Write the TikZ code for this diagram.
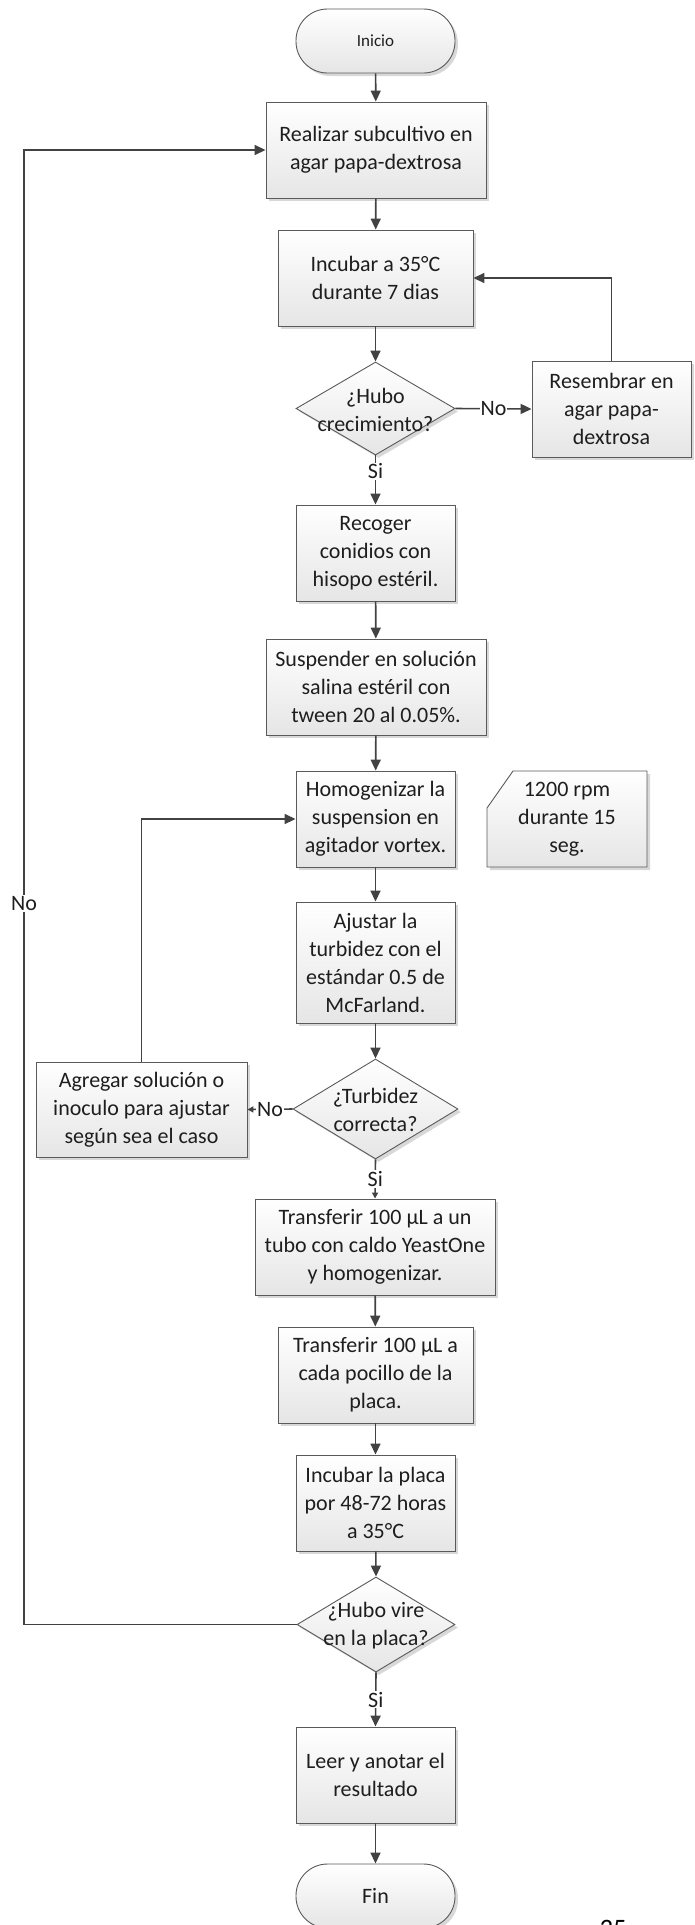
\documentclass[tikz,border=0pt]{standalone}
\usepackage{fontspec}
\setmainfont{Carlito}
\usetikzlibrary{shapes.geometric,shadows,arrows.meta}
\definecolor{linec}{HTML}{424242}
\definecolor{edgec}{HTML}{5A5A5A}
\definecolor{txtc}{HTML}{1E1E1E}
\begin{document}
\begin{tikzpicture}[x=1pt,y=-1pt,
  base/.style={draw=edgec, line width=0.9pt, top color=white, bottom color=black!10,
    drop shadow={shadow xshift=3pt,shadow yshift=-3pt,fill=black!22,opacity=0.7},
    inner sep=0pt, align=center, text=txtc, font=\fontsize{22}{28}\selectfont},
  stepbox/.style={base, rectangle},
  term/.style={base, rectangle, rounded corners=31.5pt, minimum width=159pt, minimum height=64pt},
  dec/.style={base, diamond, aspect=1.7},
  txt/.style={inner sep=0pt, align=center, text=txtc, font=\fontsize{22}{28}\selectfont},
  flow/.style={draw=linec, line width=1.6pt, -{Triangle[length=11pt,width=10pt]}},
  flowsm/.style={draw=linec, line width=1.6pt, -{Triangle[length=6pt,width=6pt]}},
  lbl/.style={fill=white, inner sep=1pt, text=txtc, font=\fontsize{22}{26}\selectfont},
]
\useasboundingbox (0,0) rectangle (694,1925);

% terminals
\node[term, font=\fontsize{17}{20}\selectfont] (ini) at (375.5,41) {Inicio};
\node[term] (fin) at (375.5,1896) {Fin};

% process steps
\node[stepbox, minimum width=220pt, minimum height=96pt] (b1) at (376,150) {Realizar subcultivo en\\agar papa-dextrosa};
\node[stepbox, minimum width=195pt, minimum height=96pt] (b2) at (375.5,278) {Incubar a 35°C\\durante 7 dias};
\node[stepbox, minimum width=159pt, minimum height=96pt] (res) at (611.5,409) {Resembrar en\\agar papa-\\dextrosa};
\node[stepbox, minimum width=159pt, minimum height=96pt] (rec) at (375.5,553) {Recoger\\conidios con\\hisopo estéril.};
\node[stepbox, minimum width=220pt, minimum height=96pt] (sus) at (376,687) {Suspender en solución\\salina estéril con\\tween 20 al 0.05\%.};
\node[stepbox, minimum width=159pt, minimum height=96pt] (hom) at (375.5,819) {Homogenizar la\\suspension en\\agitador vortex.};
\node[stepbox, minimum width=159pt, minimum height=121pt] (aj) at (375.5,962.5) {Ajustar la\\turbidez con el\\estándar 0.5 de\\McFarland.};
\node[stepbox, minimum width=211pt, minimum height=95pt] (agr) at (141.5,1109.5) {Agregar solución o\\inoculo para ajustar\\según sea el caso};
\node[stepbox, minimum width=240pt, minimum height=96pt] (t1) at (375,1247) {Transferir 100 μL a un\\tubo con caldo YeastOne\\y homogenizar.};
\node[stepbox, minimum width=195pt, minimum height=96pt] (t2) at (375.5,1375) {Transferir 100 μL a\\cada pocillo de la\\placa.};
\node[stepbox, minimum width=159pt, minimum height=96pt] (inc) at (375.5,1503) {Incubar la placa\\por 48-72 horas\\a 35°C};
\node[stepbox, minimum width=159pt, minimum height=96pt] (leer) at (375.5,1775) {Leer y anotar el\\resultado};

% annotation with a cut corner
\path[base] (513,771) -- (647,771) -- (647,867) -- (487,867) -- (487,808) -- cycle;
\node[txt] (note) at (567,819) {1200 rpm\\durante 15\\seg.};

% decisions
\node[dec, minimum width=159pt, minimum height=93pt] (d1) at (375.5,408.5) {};
\node[txt] (d1t) at (375.5,410) {¿Hubo\\crecimiento?};
\node[dec, minimum width=165pt, minimum height=100pt] (d2) at (375.5,1109) {};
\node[txt] (d2t) at (375.5,1110) {¿Turbidez\\correcta?};
\node[dec, minimum width=158pt, minimum height=95pt] (d3) at (376,1624.5) {};
\node[txt] (d3t) at (376,1626) {¿Hubo vire\\en la placa?};

% page number
\node[inner sep=0pt, anchor=north, text=black, font=\fontsize{26.6}{30}\selectfont] (pg) at (613,1920) {35};

% connectors
\coordinate (lx) at (24,1624.5);
\draw[flow] (ini) -- (b1);
\draw[flow] (b1) -- (b2);
\draw[flow] (b2) -- (d1);
\draw[flow] (d1.east) -- node[lbl]{No} (res.west);
\draw[flow] (res.north) |- (b2.east);
\draw[flow] (d1.south) -- node[lbl,pos=0.32]{Si} (rec.north);
\draw[flow] (rec) -- (sus);
\draw[flow] (sus) -- (hom);
\draw[flow] (hom) -- (aj);
\draw[flow] (aj) -- (d2.north);
\draw[flowsm] (d2.west) -- node[lbl]{No} (agr.east);
\draw[flow] (agr.north) |- (hom.west);
\draw[flowsm] (d2.south) -- node[lbl]{Si} (t1.north);
\draw[flow] (t1) -- (t2);
\draw[flow] (t2) -- (inc);
\draw[flow] (inc) -- (d3.north);
\draw[flow] (d3.south) -- node[lbl]{Si} (leer.north);
\draw[flow] (leer) -- (fin);
\draw[flow] (d3.west) -- (lx) |- node[lbl,pos=0.2445]{No} (b1.west);
\end{tikzpicture}
\end{document}
